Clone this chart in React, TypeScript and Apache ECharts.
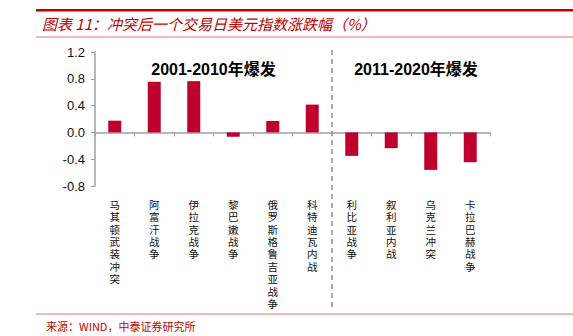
import React, { useEffect, useRef } from "react";
import * as echarts from "echarts";

const categories = ["马其顿武装冲突", "阿富汗战争", "伊拉克战争", "黎巴嫩战争", "俄罗斯格鲁吉亚战争", "科特迪瓦内战", "利比亚战争", "叙利亚内战", "乌克兰冲突", "卡拉巴赫战争"];
const values = [0.175, 0.755, 0.765, -0.065, 0.17, 0.415, -0.35, -0.235, -0.56, -0.445];
const yTicks = { min: -0.8, max: 1.2, interval: 0.4 };
const periodLabels = ["2001-2010年爆发", "2011-2020年爆发"];
const periodSplitIndex = 6;
const titleText = "图表 11：冲突后一个交易日美元指数涨跌幅（%）";
const sourceText = "来源：WIND，中泰证券研究所";

const RED = "#c00000";
const BAR = "#c0002c";
const CJK = "'Noto Sans CJK SC', sans-serif";
const LATIN = "'Liberation Sans', Arial, sans-serif";
const MIXED = "'Liberation Sans', 'Noto Sans CJK SC', sans-serif";

export default function App() {
  const ref = useRef<HTMLDivElement>(null);
  useEffect(() => {
    document.body.style.margin = "0";
    const chart = echarts.init(ref.current!, null, { renderer: "svg" });
    chart.setOption({
      animation: false,
      grid: { left: 95, right: 83, top: 52, bottom: 150, outerBoundsMode: "none" },
      xAxis: {
        type: "category",
        data: categories,
        axisLine: { lineStyle: { color: "#a0a0a0", width: 1.5 } },
        axisTick: { show: true, length: 4, lineStyle: { color: "#a0a0a0" }, alignWithLabel: false },
        axisLabel: {
          interval: 0,
          margin: 12,
          fontSize: 10.5,
          lineHeight: 12.4,
          color: "#111",
          fontFamily: CJK,
          formatter: (v: string) => v.split("").join("\n"),
        },
      },
      yAxis: {
        type: "value",
        min: yTicks.min,
        max: yTicks.max,
        interval: yTicks.interval,
        axisLine: { show: true, lineStyle: { color: "#a0a0a0", width: 1.5 } },
        axisTick: { show: true, length: 4, lineStyle: { color: "#a0a0a0" } },
        splitLine: { show: false },
        axisLabel: {
          fontSize: 13,
          margin: 10,
          color: "#111",
          fontFamily: LATIN,
          formatter: (v: number) => v.toFixed(1),
        },
      },
      series: [
        {
          type: "bar",
          data: values,
          barWidth: 13,
          itemStyle: { color: BAR },
        },
      ],
    });

    const pxAt = (i: number) => chart.convertToPixel({ xAxisIndex: 0 }, i) as number;
    const pyAt = (v: number) => chart.convertToPixel({ yAxisIndex: 0 }, v) as number;
    const splitX = (pxAt(periodSplitIndex - 1) + pxAt(periodSplitIndex)) / 2;
    const c1 = (pxAt(0) + pxAt(periodSplitIndex - 1)) / 2;
    const c2 = (pxAt(periodSplitIndex) + pxAt(categories.length - 1)) / 2 + 5;
    const annY = pyAt(0.94);

    chart.setOption({
      graphic: [
        { type: "rect", shape: { x: 36, y: 9, width: 537, height: 2.5 }, style: { fill: RED } },
        {
          type: "text",
          x: 42,
          y: 23,
          style: {
            text: titleText,
            fontSize: 15,
            fontStyle: "italic",
            fontFamily: CJK,
            fill: RED,
            verticalAlign: "middle",
          },
        },
        { type: "rect", shape: { x: 36, y: 36.5, width: 537, height: 1 }, style: { fill: "#e07a7a" } },
        {
          type: "line",
          shape: { x1: splitX, y1: 50, x2: splitX, y2: 308 },
          style: { stroke: "#909090", lineWidth: 1.5, lineDash: [5, 4] },
        },
        {
          type: "text",
          x: c1,
          y: annY,
          style: { text: periodLabels[0], fontSize: 16, fontWeight: "bold", fontFamily: MIXED, fill: "#000", align: "center", verticalAlign: "middle" },
        },
        {
          type: "text",
          x: c2,
          y: annY,
          style: { text: periodLabels[1], fontSize: 16, fontWeight: "bold", fontFamily: MIXED, fill: "#000", align: "center", verticalAlign: "middle" },
        },
        { type: "rect", shape: { x: 36, y: 313.5, width: 537, height: 1 }, style: { fill: "#e07a7a" } },
        {
          type: "text",
          x: 46,
          y: 326,
          style: { text: sourceText, fontSize: 11, fontFamily: CJK, fill: RED, verticalAlign: "middle" },
        },
      ],
    });
    return () => chart.dispose();
  }, []);
  return <div ref={ref} style={{ position: "fixed", left: 0, top: 0, width: 573, height: 336, background: "#fff" }} />;
}
